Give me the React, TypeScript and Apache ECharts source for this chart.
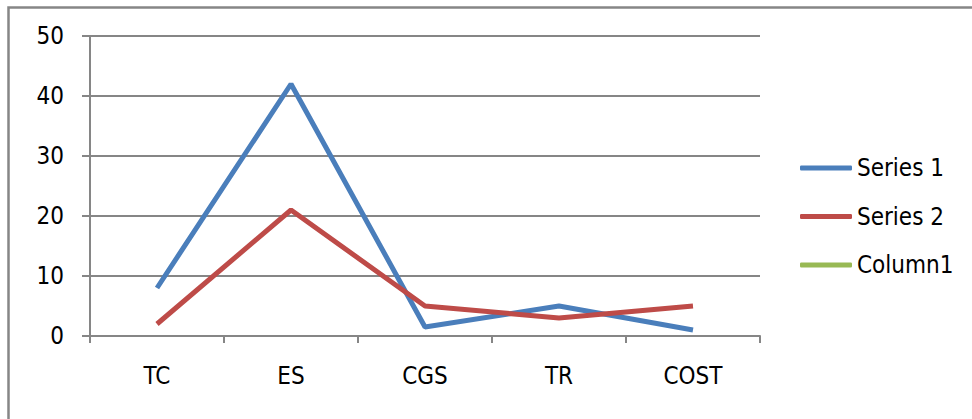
import React, { useEffect, useRef } from "react";
import * as echarts from "echarts";

const categories = ["TC", "ES", "CGS", "TR", "COST"];
const series1 = [8, 42, 1.5, 5, 1];
const series2 = [2, 21, 5, 3, 5];
const column1: (number | null)[] = [null, null, null, null, null];
const yTicks = { min: 0, max: 50, interval: 10 };

const FONT = '"DejaVu Sans Condensed", "Liberation Sans Narrow", sans-serif';

export default function App() {
  const ref = useRef<HTMLDivElement>(null);
  useEffect(() => {
    if (!ref.current) return;
    const chart = echarts.init(ref.current, undefined, { renderer: "svg" });
    chart.setOption({
      animation: false,
      textStyle: { fontFamily: FONT },
      graphic: [
        {
          type: "rect",
          shape: { x: 8.5, y: 7.5, width: 1200, height: 1200 },
          style: { fill: "none", stroke: "#868686", lineWidth: 2.5 },
          silent: true,
        },
      ],
      grid: { left: 90, right: 212, top: 36, bottom: 83 },
      xAxis: {
        type: "category",
        data: categories,
        boundaryGap: true,
        axisLine: { show: true, lineStyle: { color: "#868686", width: 2 } },
        axisTick: { show: true, length: 7, inside: false, lineStyle: { color: "#868686", width: 2 } },
        axisLabel: { color: "#000", fontSize: 24, fontFamily: FONT, margin: 28 },
        splitLine: { show: false },
      },
      yAxis: {
        type: "value",
        min: yTicks.min,
        max: yTicks.max,
        interval: yTicks.interval,
        axisLine: { show: true, lineStyle: { color: "#868686", width: 2 } },
        axisTick: { show: true, length: 8, inside: false, lineStyle: { color: "#868686", width: 2 } },
        axisLabel: { color: "#000", fontSize: 24, fontFamily: FONT, margin: 26 },
        splitLine: { show: true, lineStyle: { color: "#868686", width: 2 } },
      },
      legend: {
        orient: "vertical",
        left: 795,
        top: 151,
        icon: "roundRect",
        itemWidth: 52,
        itemHeight: 5,
        itemGap: 24.5,
        textStyle: { color: "#000", fontSize: 24, fontFamily: FONT },
        data: ["Series 1", "Series 2", "Column1"],
      },
      series: [
        {
          name: "Series 1",
          type: "line",
          data: series1,
          symbol: "none",
          color: "#4A7EBB",
          lineStyle: { width: 5, color: "#4A7EBB" },
        },
        {
          name: "Series 2",
          type: "line",
          data: series2,
          symbol: "none",
          color: "#BE4B48",
          lineStyle: { width: 5, color: "#BE4B48" },
        },
        {
          name: "Column1",
          type: "line",
          data: column1,
          symbol: "none",
          color: "#98B954",
          lineStyle: { width: 5, color: "#98B954" },
        },
      ],
    });
    return () => chart.dispose();
  }, []);
  return (
    <div
      ref={ref}
      style={{ position: "fixed", left: 0, top: 0, width: 972, height: 419, background: "#fff" }}
    />
  );
}
